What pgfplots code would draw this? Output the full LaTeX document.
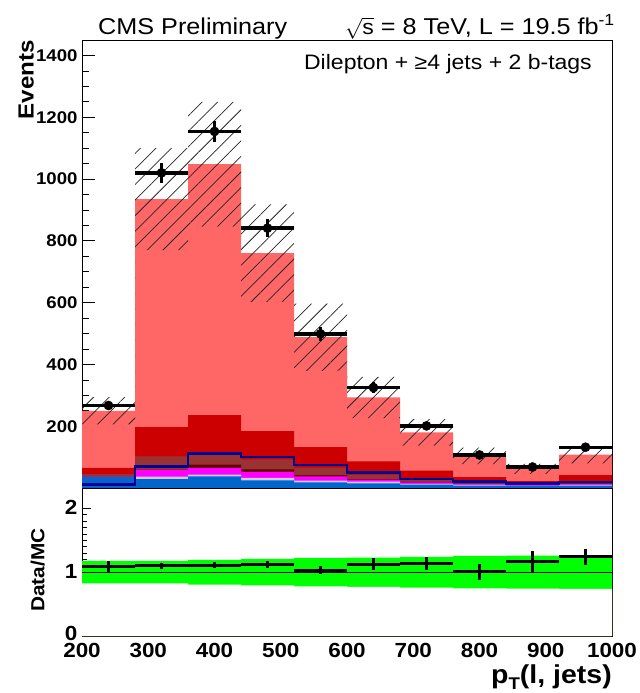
\documentclass[border=0pt]{standalone}
\usepackage{fontspec}
\setmainfont{Liberation Sans}[FakeStretch=1.1]
\usepackage{pgfplots}
\pgfplotsset{compat=1.18}
\usetikzlibrary{patterns.meta}
\definecolor{lred}{HTML}{FF6666}
\definecolor{dred}{HTML}{CC0000}
\definecolor{brownc}{HTML}{993333}
\definecolor{maroonc}{HTML}{660000}
\definecolor{magc}{HTML}{FF00FF}
\definecolor{lavc}{HTML}{CCCCFF}
\definecolor{bluec}{HTML}{0066CC}
\definecolor{navyc}{HTML}{000099}
\definecolor{bandg}{HTML}{00FF00}
\begin{document}
\begin{tikzpicture}
\useasboundingbox (0bp,0bp) rectangle (640bp,693bp);
% ---------------- upper panel ----------------
\begin{axis}[at={(82bp,205bp)}, anchor=south west, width=530bp, height=448bp, scale only axis,
  xmin=200, xmax=1000, ymin=0, ymax=1450,
  xtick={200,300,...,1000}, minor x tick num=4, xticklabels={},
  ytick={200,400,...,1400}, minor y tick num=3,
  xtick pos=left, ytick pos=left, tick align=inside,
  major tick length=13bp, minor tick length=7bp,
  axis line style={black, line width=0.7pt},
  every tick/.style={black, line width=0.7pt},
  /pgf/number format/assume math mode=true, /pgf/number format/1000 sep={},
  yticklabel style={font=\bfseries\fontsize{17}{17}\selectfont, xshift=-1bp}]
% stack (cumulative tops), drawn from top layer to bottom layer
\addplot[const plot, fill=lred, draw=none] coordinates {(200,250)(280,935)(360,1048)(440,760)(520,488)(600,293)(680,180)(760,104)(840,62)(920,108)(1000,108)} \closedcycle;
\addplot[const plot, fill=dred, draw=none] coordinates {(200,65)(280,197)(360,236)(440,184)(520,132)(600,86)(680,56)(760,35)(840,22)(920,42)(1000,42)} \closedcycle;
\addplot[const plot, fill=brownc, draw=none] coordinates {(200,45)(280,102)(360,108)(440,93)(520,66)(600,43)(680,26)(760,18)(840,13)(920,20)(1000,20)} \closedcycle;
\addplot[const plot, fill=maroonc, draw=none] coordinates {(200,38)(280,59)(360,76)(440,60)(520,42)(600,29)(680,20)(760,14)(840,10)(920,15)(1000,15)} \closedcycle;
\addplot[const plot, fill=magc, draw=none] coordinates {(200,37)(280,58)(360,65)(440,52)(520,38)(600,27)(680,18)(760,13)(840,9)(920,13)(1000,13)} \closedcycle;
\addplot[const plot, fill=lavc, draw=none] coordinates {(200,36)(280,37)(360,43)(440,33)(520,24)(600,21)(680,13)(760,10)(840,7)(920,10)(1000,10)} \closedcycle;
\addplot[const plot, fill=bluec, draw=none] coordinates {(200,35)(280,29)(360,38)(440,25)(520,18)(600,15)(680,11)(760,8)(840,6)(920,8)(1000,8)} \closedcycle;
% signal outline
\addplot[const plot, draw=navyc, line width=2.6bp] coordinates {(200,12)(280,69)(360,112)(440,100)(520,75)(600,51)(680,29)(760,22)(840,15)(920,20)(1000,20)};
% uncertainty band (hatched), step polygon: upper edge then lower edge back
\addplot[draw=none, pattern={Lines[angle=45, distance=11bp, line width=0.75bp]}, pattern color=black!85] coordinates {
 (200,294)(280,294)(280,1100)(360,1100)(360,1250)(440,1250)(440,918)(520,918)(520,597)(600,597)(600,360)(680,360)(680,223)(760,223)(760,131)(840,131)(840,78)(920,78)(920,136)(1000,136)
 (1000,80)(920,80)(920,46)(840,46)(840,77)(760,77)(760,137)(680,137)(680,226)(600,226)(600,379)(520,379)(520,602)(440,602)(440,846)(360,846)(360,770)(280,770)(280,206)(200,206)} -- cycle;
% data
\addplot[only marks, mark=*, mark size=4.6bp, black,
  error bars/.cd, x dir=both, x explicit, y dir=both, y explicit, error mark=none,
  error bar style={line width=3.4bp, black}]
  coordinates {
  (240,267) +- (40,16)
  (320,1020) +- (40,33)
  (400,1154) +- (40,35)
  (480,841) +- (40,30)
  (560,499) +- (40,23)
  (640,325) +- (40,18)
  (720,201) +- (40,14)
  (800,107) +- (40,10)
  (880,68) +- (40,8)
  (960,132) +- (40,11)
  };
\end{axis}
% ---------------- lower panel ----------------
\begin{axis}[at={(82bp,57bp)}, anchor=south west, width=530bp, height=148bp, scale only axis,
  xmin=200, xmax=1000, ymin=0, ymax=2.32,
  xtick={200,300,...,1000}, minor x tick num=4,
  ytick={0,1,2}, yticklabels={\raisebox{4bp}{0},1,2}, minor y tick num=9,
  xtick pos=left, ytick pos=left, tick align=inside,
  major tick length=9bp, minor tick length=5bp,
  axis line style={black, line width=0.7pt},
  every tick/.style={black, line width=0.7pt},
  /pgf/number format/assume math mode=true, /pgf/number format/1000 sep={},
  ticklabel style={font=\bfseries\fontsize{20.5}{20.5}\selectfont},
  yticklabel style={xshift=-1bp, yshift=1bp},
  xticklabel style={yshift=-4bp}]
\addplot[const plot, fill=bandg, draw=none] coordinates {(200,1.177)(280,1.177)(360,1.193)(440,1.208)(520,1.224)(600,1.229)(680,1.24)(760,1.255)(840,1.258)(920,1.263)(1000,1.263)} \closedcycle;
\addplot[const plot, fill=white, draw=none] coordinates {(200,0.823)(280,0.823)(360,0.807)(440,0.792)(520,0.776)(600,0.771)(680,0.76)(760,0.745)(840,0.742)(920,0.737)(1000,0.737)} \closedcycle;
\addplot[black, line width=0.8bp] coordinates {(200,1)(1000,1)};
\addplot[only marks, mark=*, mark size=0.5bp, black,
  error bars/.cd, x dir=both, x explicit, y dir=both, y explicit, error mark=none,
  error bar style={line width=3.0bp, black}]
  coordinates {
  (240,1.09) +- (40,0.09)
  (320,1.10) +- (40,0.05)
  (400,1.11) +- (40,0.05)
  (480,1.12) +- (40,0.06)
  (560,1.03) +- (40,0.06)
  (640,1.125) +- (40,0.09)
  (720,1.135) +- (40,0.10)
  (800,1.005) +- (40,0.12)
  (880,1.16) +- (40,0.17)
  (960,1.24) +- (40,0.13)
  };
\end{axis}
% ---------------- texts ----------------
\node[anchor=base west, inner sep=0pt, font=\fontsize{23}{23}\selectfont] at (98bp,658bp) {CMS Preliminary};
\node[anchor=base east, inner sep=0pt, font=\fontsize{23}{23}\selectfont] at (615bp,658bp) {{\fontsize{21}{21}\selectfont\(\sqrt{\mbox{s}}\)} = 8 TeV, L = 19.5 fb\textsuperscript{-1}};
\node[anchor=base east, inner sep=0pt, font=\fontsize{21}{21}\selectfont] at (592bp,623bp) {Dilepton + ≥4 jets + 2 b-tags};
\node[rotate=90, anchor=south east, inner sep=0pt, font=\bfseries\fontsize{22}{22}\selectfont] at (34bp,653bp) {Events};
\node[rotate=90, anchor=south, inner sep=0pt, font=\bfseries\fontsize{19}{19}\selectfont] at (45bp,123bp) {Data/MC};
\node[anchor=base east, inner sep=0pt, font=\bfseries\fontsize{26}{26}\selectfont] at (612bp,10bp) {p\raisebox{-0.45ex}{\fontsize{17}{17}\selectfont T}(l, jets)};
\end{tikzpicture}
\end{document}
